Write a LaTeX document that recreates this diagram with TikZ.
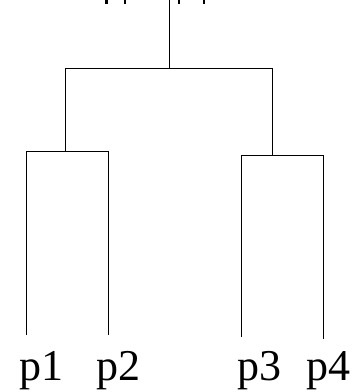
\documentclass[tikz,border=0pt]{standalone}
\usepackage{fontspec}
\setmainfont{Liberation Serif}
\begin{document}
\begin{tikzpicture}[x=1pt,y=-1pt,
  link/.style={draw=black,line width=0.9pt},
  leaf/.style={anchor=base west,inner sep=0pt,font=\fontsize{44}{44}\selectfont},
  tickmark/.style={fill=black}]
\useasboundingbox (0,0) rectangle (356,392);
% leaf labels
\node[leaf] (p1) at (19.5,380) {p1};
\node[leaf] (p2) at (96.5,380) {p2};
\node[leaf] (p3) at (237.5,380) {p3};
\node[leaf] (p4) at (306.5,380) {p4};
% leaf tops
\coordinate (t1) at (26,335);
\coordinate (t2) at (108,335);
\coordinate (t3) at (241.3,337);
\coordinate (t4) at (323.3,339);
% cluster junctions
\coordinate (a1) at (26,151);
\coordinate (a2) at (108,151);
\coordinate (am) at (65.7,151);
\coordinate (b1) at (241.3,155);
\coordinate (b2) at (323.3,155);
\coordinate (bm) at (272.7,155);
\coordinate (r1) at (65.7,68);
\coordinate (r2) at (272.7,68);
\coordinate (rm) at (169,68);
\coordinate (top) at (169,0);
% connectors
\draw[link] (t1) -- (a1) -- (a2) -- (t2);
\draw[link] (t3) -- (b1) -- (b2) -- (t4);
\draw[link] (am) -- (r1) -- (r2) -- (bm);
\draw[link] (rm) -- (top);
% cut-off marks at the top edge
\fill[tickmark] (105,0) rectangle (107.5,4);
\fill[tickmark] (123.5,0) rectangle (126,4);
\fill[tickmark] (177.5,0) rectangle (180,4);
\fill[tickmark] (202.5,0) rectangle (205,4);
\end{tikzpicture}
\end{document}
